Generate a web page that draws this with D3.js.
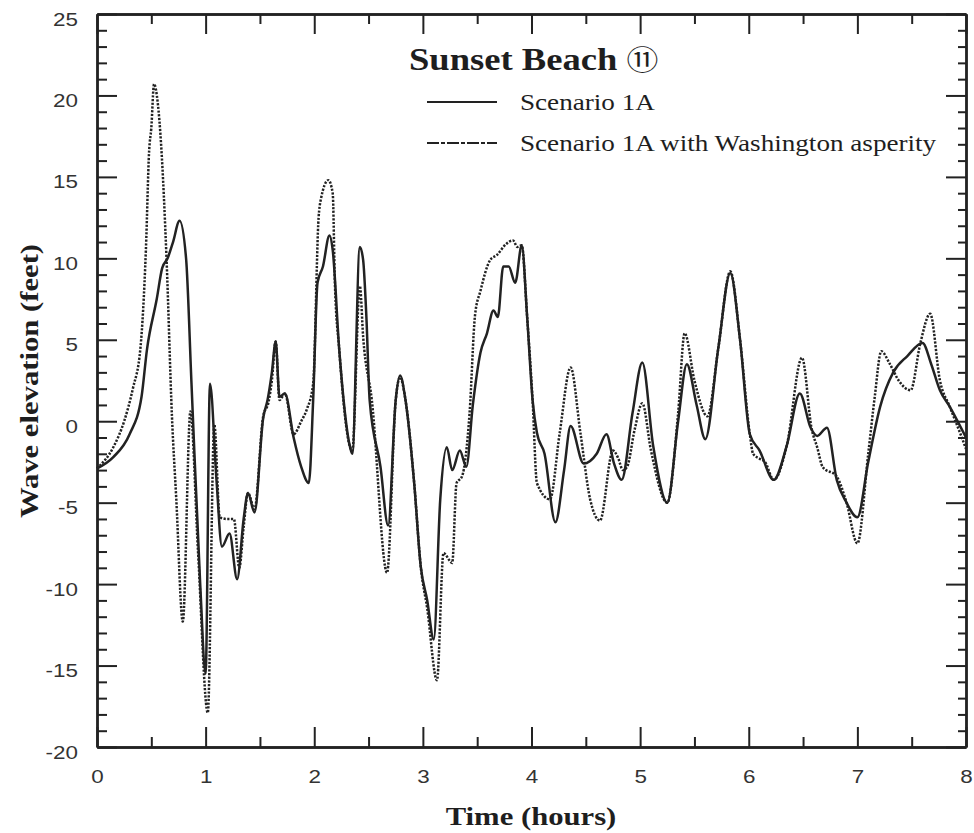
<!DOCTYPE html>
<html>
<head>
  <meta charset='utf-8'>
  <title>Sunset Beach</title>
  <script src="https://cdnjs.cloudflare.com/ajax/libs/d3/7.8.5/d3.min.js"></script>
  <style>
    html, body {
      margin: 0;
      padding: 0;
      background: #fff;
    }
    .tick text {
      font-family: 'Liberation Sans', Arial, sans-serif;
      font-size: 19px;
      fill: #333;
    }
    .serif {
      font-family: 'Liberation Serif', 'Times New Roman', serif;
      fill: #1e1e1e;
    }
  </style>
</head>
<body>
  <svg id="chart"></svg>
  <script>
    // Scenario 1A
    const timeA = [0, 0.15, 0.30, 0.41, 0.46, 0.55, 0.60, 0.65, 0.70, 0.76, 0.82, 0.87, 0.95, 1.00, 1.04, 1.10, 1.15, 1.22, 1.29, 1.35,
      1.39, 1.45, 1.53, 1.57, 1.61, 1.645, 1.68, 1.73, 1.81, 1.88, 1.95, 1.99, 2.03, 2.08, 2.14, 2.17, 2.23, 2.33, 2.35, 2.42,
      2.45, 2.48, 2.51, 2.61, 2.68, 2.75, 2.79, 2.84, 2.92, 2.98, 3.04, 3.10, 3.16, 3.22, 3.27, 3.34, 3.40, 3.46, 3.53, 3.59,
      3.65, 3.69, 3.74, 3.79, 3.85, 3.91, 3.96, 4.01, 4.05, 4.12, 4.22, 4.30, 4.36, 4.48, 4.60, 4.69, 4.76, 4.83, 4.93, 5.02,
      5.12, 5.25, 5.35, 5.43, 5.52, 5.60, 5.72, 5.83, 5.92, 6.01, 6.10, 6.23, 6.35, 6.47, 6.57, 6.63, 6.72, 6.81, 6.90, 7.00,
      7.10, 7.21, 7.33, 7.46, 7.60, 7.68, 7.76, 7.85, 8.00];
    const elevA = [-2.9, -2.2, -0.8, 1.5, 4.4, 7.5, 9.4, 10.0, 11.0, 12.3, 10.0, 2.3, -10, -15.5, 2.3, -3.6, -7.7, -6.9, -9.7, -6.0,
      -4.4, -5.6, 0.2, 1.3, 3.0, 4.9, 1.5, 1.7, -1.0, -2.8, -3.8, 1.3, 8.5, 9.5, 11.4, 10.5, 4.4, -1.6, -2.0, 10.7,
      9.9, 6.4, 1.3, -2.8, -6.4, 1.3, 2.8, 1.3, -3.8, -8.9, -11.0, -13.4, -4.8, -1.6, -3.0, -1.8, -2.8, 1.0, 4.2, 5.4,
      6.8, 6.4, 9.5, 9.5, 8.5, 10.8, 6.4, 1.3, -0.7, -2.0, -6.2, -3.0, -0.3, -2.6, -2.0, -0.8, -2.6, -3.6, 0.5, 3.6,
      -1.5, -5.0, 0.0, 3.5, 1.0, -1.1, 4.5, 9.1, 5.0, -0.8, -1.8, -3.6, -1.5, 1.7, -0.4, -0.9, -0.4, -3.6, -5.0, -5.9,
      -2.5, 0.9, 3.0, 4.0, 4.8, 3.5, 1.9, 0.9, -1.0];

    // Scenario 1A with Washington asperity
    const timeB = [0, 0.15, 0.25, 0.33, 0.40, 0.45, 0.48, 0.50, 0.525, 0.56, 0.59, 0.64, 0.69, 0.73, 0.79, 0.86, 0.93, 1.02, 1.08, 1.13,
      1.20, 1.26, 1.31, 1.35, 1.39, 1.45, 1.53, 1.58, 1.61, 1.645, 1.68, 1.73, 1.81, 1.88, 1.93, 1.99, 2.04, 2.06, 2.13, 2.17,
      2.19, 2.23, 2.33, 2.35, 2.42, 2.45, 2.53, 2.67, 2.75, 2.79, 2.84, 2.92, 2.98, 3.04, 3.13, 3.19, 3.27, 3.31, 3.36, 3.43,
      3.48, 3.53, 3.62, 3.68, 3.77, 3.83, 3.87, 3.91, 3.96, 4.01, 4.05, 4.17, 4.26, 4.36, 4.45, 4.54, 4.63, 4.75, 4.80, 4.84,
      4.88, 4.95, 5.02, 5.10, 5.25, 5.35, 5.41, 5.50, 5.62, 5.72, 5.83, 5.92, 6.01, 6.04, 6.10, 6.15, 6.23, 6.35, 6.49, 6.58,
      6.63, 6.68, 6.81, 6.90, 7.00, 7.10, 7.16, 7.22, 7.30, 7.38, 7.49, 7.58, 7.67, 7.76, 7.85, 7.95, 8.00];
    const elevB = [-2.9, -1.6, 0.0, 2.0, 4.5, 10.5, 16.6, 18.0, 20.7, 19.5, 17.0, 10.0, 0.3, -4.8, -12.3, 0.6, -8.0, -17.9, -0.2, -5.9,
      -6.0, -6.0, -9.0, -6.5, -4.4, -5.4, 0.3, 1.2, 2.5, 4.9, 1.3, 1.7, -0.8, 0.0, 0.7, 2.3, 12.5, 13.6, 14.8, 14.0,
      8.5, 4.4, -1.6, -1.8, 8.3, 5.2, 1.3, -9.3, 1.3, 2.7, 1.3, -3.8, -8.9, -11.5, -15.9, -8.1, -8.7, -3.8, -3.4, 0.5,
      6.5, 8.0, 9.9, 10.2, 10.9, 11.1, 10.7, 10.8, 6.4, 1.3, -3.8, -4.8, -0.7, 3.3, -0.7, -4.8, -6.1, -1.8, -2.3, -3.0,
      -2.8, -0.5, 1.1, -1.8, -5.0, 0.5, 5.4, 2.5, 0.3, 4.5, 9.2, 5.0, -0.8, -2.0, -2.3, -2.5, -3.6, -1.5, 3.9, -0.5,
      -1.6, -2.8, -3.4, -5.0, -7.5, -2.0, 1.5, 4.3, 3.5, 2.5, 1.9, 4.8, 6.6, 2.5, 0.9, -0.8, -1.7];

    const xMajor = [0, 1, 2, 3, 4, 5, 6, 7, 8];
    const xMinor = [0.5, 1.5, 2.5, 3.5, 4.5, 5.5, 6.5, 7.5];
    const yMajor = [-20, -15, -10, -5, 0, 5, 10, 15, 20, 25];
    const yMinor = d3.range(-20, 26, 1).filter(v => v % 5 != 0);

    const seriesNames = ["Scenario 1A", "Scenario 1A with Washington asperity"];

    const width = 974;
    const height = 833;
    const plotLeft = 97, plotRight = 966, plotTop = 14, plotBottom = 747;
    const stretch = 1.18; // the scan is a bit wider than tall

    const svg = d3.select('#chart')
      .attr('width', width)
      .attr('height', height);

    const x = d3.scaleLinear().domain([0, 8]).range([plotLeft, plotRight]);
    const y = d3.scaleLinear().domain([-20, 25]).range([plotBottom, plotTop]);

    const ink = '#222';
    const plain = d => String(d); // keep the ascii hyphen for negatives

    function styleAxis(g) {
      g.select('.domain').attr('stroke', ink).attr('stroke-width', 2.4);
      g.selectAll('.tick line').attr('stroke', ink).attr('stroke-width', 2);
    }

    // minor ticks first, then majors with labels
    svg.append('g').attr('transform', `translate(0,${plotBottom})`)
      .call(d3.axisBottom(x).tickValues(xMinor).tickSize(-10).tickSizeOuter(0).tickFormat(''))
      .call(styleAxis);
    svg.append('g').attr('transform', `translate(0,${plotTop})`)
      .call(d3.axisTop(x).tickValues(xMinor).tickSize(-10).tickSizeOuter(0).tickFormat(''))
      .call(styleAxis);
    svg.append('g').attr('transform', `translate(${plotLeft},0)`)
      .call(d3.axisLeft(y).tickValues(yMinor).tickSize(-10).tickSizeOuter(0).tickFormat(''))
      .call(styleAxis);
    svg.append('g').attr('transform', `translate(${plotRight},0)`)
      .call(d3.axisRight(y).tickValues(yMinor).tickSize(-8).tickSizeOuter(0).tickFormat(''))
      .call(styleAxis);

    const xAxis = svg.append('g').attr('transform', `translate(0,${plotBottom})`)
      .call(d3.axisBottom(x).tickValues(xMajor).tickSize(-20).tickSizeOuter(0).tickPadding(23).tickFormat(plain))
      .call(styleAxis);
    xAxis.selectAll('.tick text')
      .attr('transform', `scale(${stretch},1)`)
      .attr('x', 0);

    svg.append('g').attr('transform', `translate(0,${plotTop})`)
      .call(d3.axisTop(x).tickValues(xMajor).tickSize(-20).tickSizeOuter(0).tickFormat(''))
      .call(styleAxis);

    const yAxis = svg.append('g').attr('transform', `translate(${plotLeft},0)`)
      .call(d3.axisLeft(y).tickValues(yMajor).tickSize(-20).tickSizeOuter(0).tickFormat(plain))
      .call(styleAxis);
    yAxis.selectAll('.tick text')
      .attr('x', null)
      .attr('transform', `translate(-19,5) scale(${stretch},1)`);

    svg.append('g').attr('transform', `translate(${plotRight},0)`)
      .call(d3.axisRight(y).tickValues(yMajor).tickSize(-20).tickSizeOuter(0).tickFormat(''))
      .call(styleAxis);

    // curves
    const line = d3.line()
      .x(d => x(d[0]))
      .y(d => y(d[1]))
      .curve(d3.curveMonotoneX);

    const dataA = d3.zip(timeA, elevA);
    const dataB = d3.zip(timeB, elevB);

    svg.append('path')
      .datum(dataB)
      .attr('fill', 'none')
      .attr('stroke', ink)
      .attr('stroke-width', 2.5)
      .attr('stroke-dasharray', '2.2,1.5')
      .attr('d', line);

    svg.append('path')
      .datum(dataA)
      .attr('fill', 'none')
      .attr('stroke', ink)
      .attr('stroke-width', 2.5)
      .attr('stroke-linejoin', 'round')
      .attr('d', line);

    //Helper for the wide-looking serif text
    function wideText(txt, tx, ty, size, weight, anchor, rotate) {
      const g = svg.append('g')
        .attr('transform', `translate(${tx},${ty})` + (rotate ? ` rotate(${rotate})` : '') + ` scale(${stretch},1)`);
      return g.append('text')
        .attr('class', 'serif')
        .attr('font-size', size)
        .attr('font-weight', weight)
        .attr('text-anchor', anchor)
        .text(txt);
    }

    // title
    const title = wideText('Sunset Beach ', 409, 70, 31, 'bold', 'start');
    title.append('tspan')
      .attr('font-family', "'Noto Sans CJK JP', 'DejaVu Sans', sans-serif")
      .attr('font-weight', 'normal')
      .attr('font-size', 27)
      .text('\u246A');

    // legend
    const legendY = [102, 143];
    svg.append('line')
      .attr('x1', 427).attr('x2', 497)
      .attr('y1', legendY[0]).attr('y2', legendY[0])
      .attr('stroke', ink).attr('stroke-width', 2);
    svg.append('line')
      .attr('x1', 427).attr('x2', 497)
      .attr('y1', legendY[1]).attr('y2', legendY[1])
      .attr('stroke', ink).attr('stroke-width', 2)
      .attr('stroke-dasharray', '12,2,4,2');
    seriesNames.forEach((name, i) => {
      wideText(name, 520, legendY[i] + 8, 23, 'normal', 'start');
    });

    // axis titles
    wideText('Time (hours)', 531, 825, 26, 'bold', 'middle');
    wideText('Wave elevation (feet)', 38, 381, 26, 'bold', 'middle', -90);
  </script>
</body>
</html>
